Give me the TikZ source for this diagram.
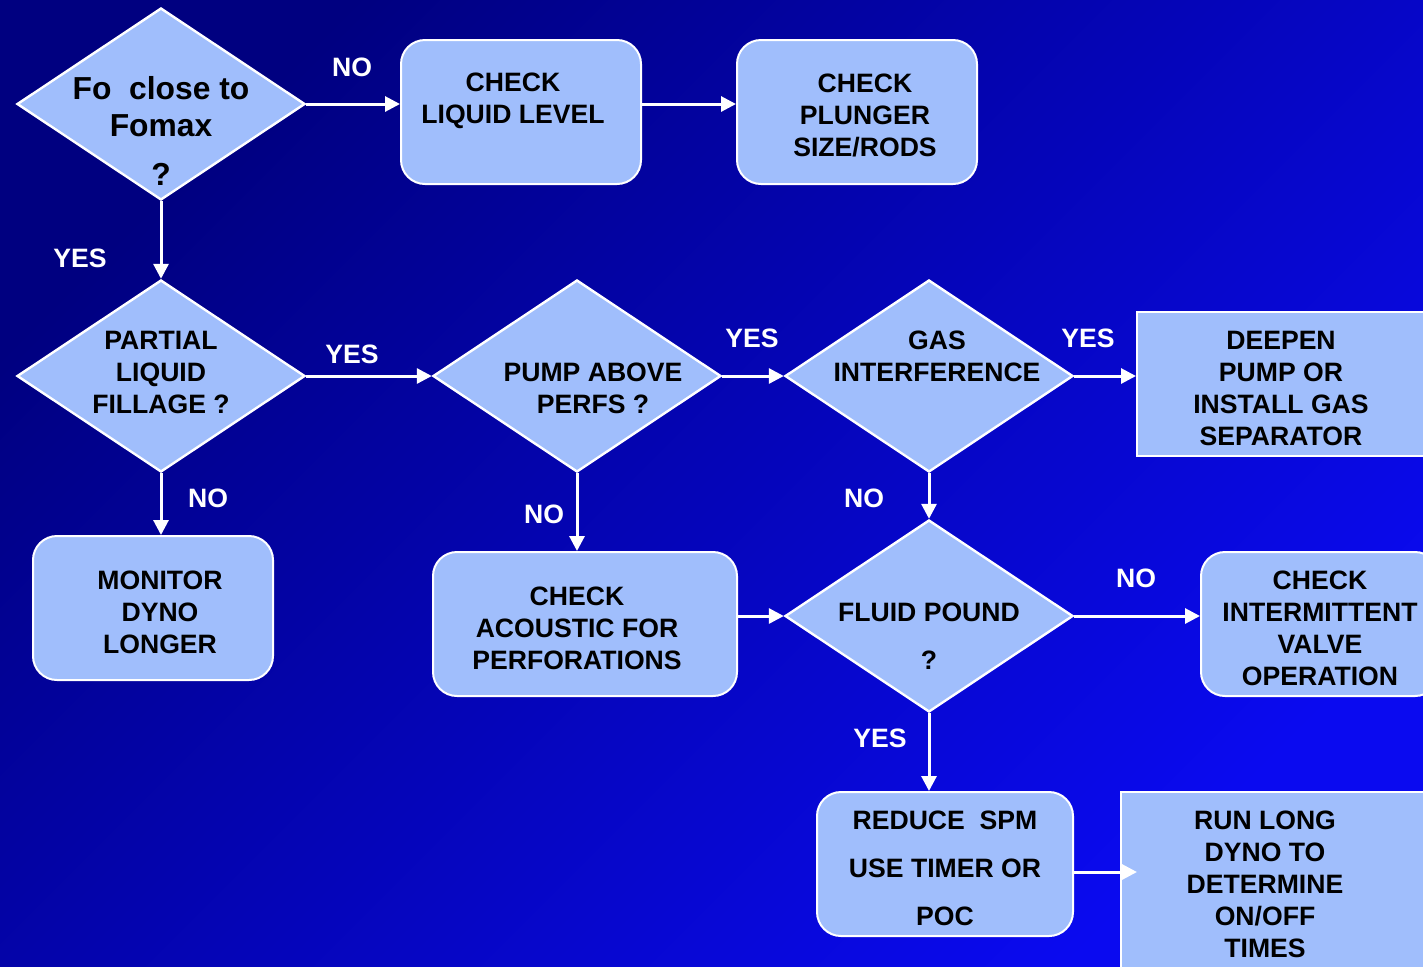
\documentclass[tikz,border=0pt]{standalone}
\usepackage{fontspec}
\setmainfont{Liberation Sans}
\usetikzlibrary{shapes.geometric,arrows.meta}

\definecolor{bgdark}{RGB}{0,0,128}
\definecolor{bglight}{RGB}{10,10,240}
\definecolor{boxblue}{RGB}{160,190,252}
\newcommand\boxfont{\fontsize{13.3}{16}\selectfont\bfseries}
\newcommand\bigfont{\fontsize{15.9}{18.5}\selectfont\bfseries}

\tikzset{
  box/.style={draw=white, line width=1pt, fill=boxblue, rounded corners=12pt,
    minimum width=120pt, minimum height=72pt, inner sep=0pt, align=center, font=\boxfont},
  sbox/.style={box, rounded corners=0pt},
  dia/.style={diamond, draw=white, line width=1.2pt, fill=boxblue,
    minimum width=144pt, minimum height=96pt, inner sep=0pt},
  txt/.style={align=center, font=\boxfont, inner sep=0pt},
  lbl/.style={text=white, font=\boxfont, inner sep=0pt},
  arr/.style={draw=white, line width=1.5pt, -{Triangle[length=7.5pt,width=7.5pt]}},
}

\begin{document}
\begin{tikzpicture}[x=0.5pt,y=-0.5pt]
\useasboundingbox (0,0) rectangle (1423,966);
\shade[top color=bgdark, bottom color=bglight, shading angle=45] (0,0) rectangle (1423,966);
\clip (0,0) rectangle (1423,966);

% decisions
\node[dia] (d1) at (161,104) {};
\node[txt, font=\bigfont] (d1t) at (161,131) {Fo\ \ close to\\Fomax\\[6pt]?};
\node[dia] (d2) at (161,376) {};
\node[txt] (d2t) at (161,372) {PARTIAL\\LIQUID\\FILLAGE ?};
\node[dia] (d3) at (577,376) {};
\node[txt] (d3t) at (593,388) {PUMP ABOVE\\PERFS ?};
\node[dia] (d4) at (929,376) {};
\node[txt] (d4t) at (937,356) {GAS\\INTERFERENCE};
\node[dia] (d5) at (929,616) {};
\node[txt] (d5t) at (929,636) {FLUID POUND\\[8pt]?};

% actions
\node[box] (b1) at (521,112) {};
\node[txt] (b1t) at (513,101) {CHECK\\LIQUID LEVEL};
\node[box] (b2) at (857,112) {};
\node[txt] (b2t) at (865,115) {CHECK\\PLUNGER\\SIZE/RODS};
\node[box] (b3) at (153,608) {};
\node[txt] (b3t) at (160,612) {MONITOR\\DYNO\\LONGER};
\node[box, minimum width=152pt] (b5) at (585,624) {};
\node[txt] (b5t) at (577,628) {CHECK\\ACOUSTIC FOR\\PERFORATIONS};
\node[box, minimum width=128pt] (b7) at (945,864) {};
\node[txt] (b7t) at (945,868) {REDUCE\ \ SPM\\[8pt]USE TIMER OR\\[8pt]POC};
\node[sbox, minimum width=144pt] (b4) at (1281,384) {};
\node[txt] (b4t) at (1281,388) {DEEPEN\\PUMP OR\\INSTALL GAS\\SEPARATOR};
\node[box, minimum width=119pt] (b6) at (1320,624) {};
\node[txt] (b6t) at (1320,628) {CHECK\\INTERMITTENT\\VALVE\\OPERATION};
\node[sbox, minimum width=160pt, minimum height=110pt] (b8) at (1281,902) {};
\node[txt] (b8t) at (1265,884) {RUN LONG\\DYNO TO\\DETERMINE\\ON/OFF\\TIMES};
\coordinate (b8in) at (1137,872);

% connectors
\draw[arr] (d1.east) -- (d1.east -| b1.west);
\draw[arr] (d1.east -| b1.east) -- (d1.east -| b2.west);
\draw[arr] (d1.south) -- (d2.north);
\draw[arr] (d2.east) -- (d3.west);
\draw[arr] (d3.east) -- (d4.west);
\draw[arr] (d4.east) -- (d4.east -| b4.west);
\draw[arr] (d2.south) -- (d2.south |- b3.north);
\draw[arr] (d3.south) -- (d3.south |- b5.north);
\draw[arr] (d4.south) -- (d5.north);
\draw[arr] (d5.west -| b5.east) -- (d5.west);
\draw[arr] (d5.east) -- (d5.east -| b6.west);
\draw[arr] (d5.south) -- (d5.south |- b7.north);
\draw[arr] (b7.east |- b8in) -- (b8in);

% labels
\node[lbl] (no1) at (352,67) {NO};
\node[lbl] (yes1) at (80,258) {YES};
\node[lbl] (yes2) at (352,354) {YES};
\node[lbl] (yes3) at (752,338) {YES};
\node[lbl] (yes4) at (1088,338) {YES};
\node[lbl] (no2) at (208,498) {NO};
\node[lbl] (no3) at (544,514) {NO};
\node[lbl] (no4) at (864,498) {NO};
\node[lbl] (no5) at (1136,578) {NO};
\node[lbl] (yes5) at (880,738) {YES};
\end{tikzpicture}
\end{document}
